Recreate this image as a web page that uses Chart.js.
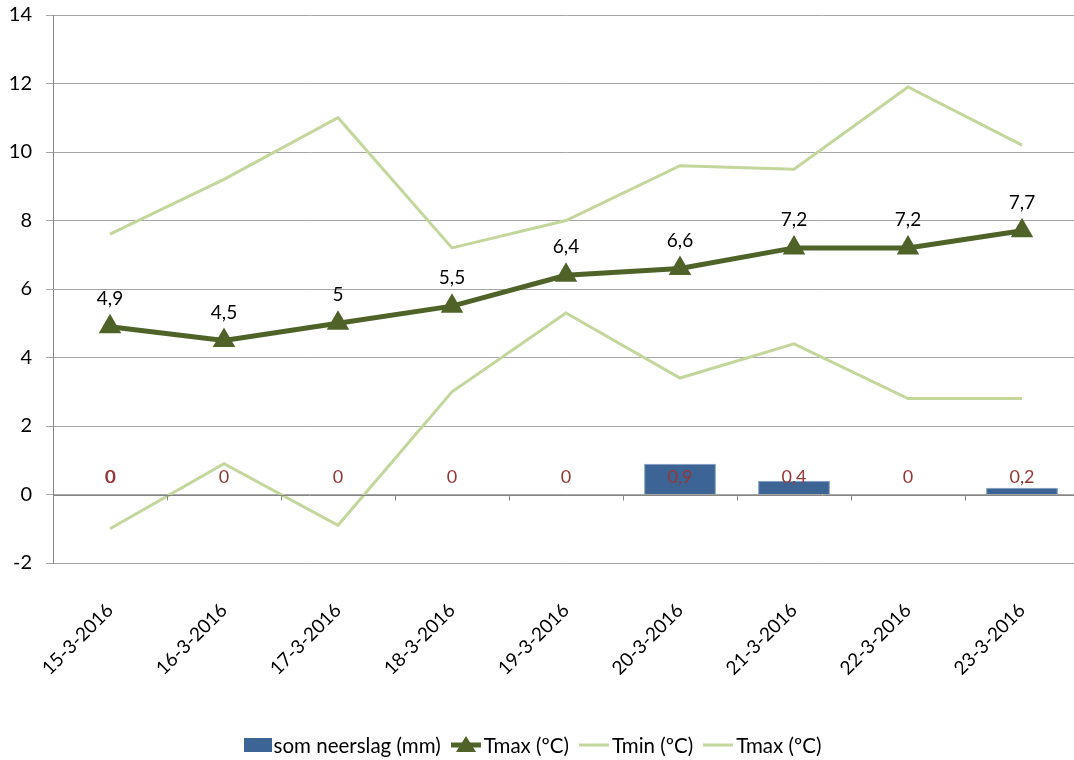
<!DOCTYPE html>
<html>
<head>
<meta charset="utf-8">
<script src="https://cdn.jsdelivr.net/npm/chart.js@4.4.1/dist/chart.umd.min.js"></script>
<style>
html,body{margin:0;padding:0;background:#fff;overflow:hidden;width:1074px;height:760px;}
#wrap{position:absolute;left:0;top:0;width:1092px;height:760px;}
#legend{position:absolute;left:0;top:732px;width:1074px;height:26px;display:flex;justify-content:center;align-items:center;font-family:Lato,"Open Sans",sans-serif;font-size:20.5px;color:#000;}
.it{display:flex;align-items:center;margin-right:9px;}
.sw{display:inline-block;margin-right:2px;}
</style>
</head>
<body>
<div id="wrap"><canvas id="c" width="1092" height="760"></canvas></div>
<div id="legend"></div>
<script>
const categories = ['15-3-2016','16-3-2016','17-3-2016','18-3-2016','19-3-2016','20-3-2016','21-3-2016','22-3-2016','23-3-2016'];
const neerslag = [0, 0, 0, 0, 0, 0.9, 0.4, 0, 0.2];
const tmax = [4.9, 4.5, 5, 5.5, 6.4, 6.6, 7.2, 7.2, 7.7];
const tmin = [-1, 0.9, -0.9, 3, 5.3, 3.4, 4.4, 2.8, 2.8];
const tmax2 = [7.6, 9.2, 11, 7.2, 8, 9.6, 9.5, 11.9, 10.2];
const yTicks = [-2, 0, 2, 4, 6, 8, 10, 12, 14];
const seriesNames = ['som neerslag (mm)', 'Tmax (\u00BAC)', 'Tmin (\u00BAC)', 'Tmax (\u00BAC)'];

const FONT = 'Lato, "Open Sans", sans-serif';
const fmt = v => String(v).replace('.', ',');

const labelPlugin = {
  id: 'labels',
  afterDatasetsDraw(chart) {
    const ctx = chart.ctx;
    const ys = chart.scales.y;
    ctx.save();
    const y0 = Math.round(ys.getPixelForValue(0)) + 0.5;
    ctx.strokeStyle = '#868686';
    ctx.lineWidth = 1;
    ctx.beginPath();
    ctx.moveTo(chart.chartArea.left, y0);
    ctx.lineTo(chart.chartArea.right, y0);
    const n = categories.length;
    const w = (chart.chartArea.right - chart.chartArea.left) / n;
    for (let i = 0; i <= n; i++) {
      const x = Math.round(chart.chartArea.left + i * w) + 0.5;
      ctx.moveTo(x, y0);
      ctx.lineTo(x, y0 + 5);
    }
    ctx.stroke();
    ctx.restore();
  },
  afterDraw(chart) {
    const ctx = chart.ctx;
    const ys = chart.scales.y;
    ctx.save();
    ctx.textAlign = 'center';
    ctx.textBaseline = 'middle';
    ctx.font = '18px ' + FONT;
    ctx.fillStyle = '#953735';
    const barMeta = chart.getDatasetMeta(0);
    const yl = ys.getPixelForValue(0.5);
    barMeta.data.forEach((el, i) => {
      ctx.fillText(fmt(neerslag[i]), el.x, yl);
      if (i === 0) ctx.fillText(fmt(neerslag[i]), el.x + 0.8, yl);
    });
    ctx.font = '19px ' + FONT;
    ctx.fillStyle = '#000';
    const m = chart.getDatasetMeta(1);
    m.data.forEach((el, i) => {
      ctx.fillText(fmt(tmax[i]), el.x, el.y - 28);
    });
    ctx.restore();
  }
};

new Chart(document.getElementById('c'), {
  data: {
    labels: categories,
    datasets: [
      { type: 'bar', label: seriesNames[0], data: neerslag, backgroundColor: '#3C6595', borderColor: '#7E9CC2', borderWidth: 1, barPercentage: 0.63, categoryPercentage: 1, order: 4 },
      { type: 'line', label: seriesNames[1], data: tmax, borderColor: '#4F6228', backgroundColor: '#4F6228', borderWidth: 5, pointStyle: 'triangle', pointRadius: 11, pointBorderWidth: 2, pointBackgroundColor: '#4F6228', pointBorderColor: '#4F6228', tension: 0, order: 1 },
      { type: 'line', label: seriesNames[2], data: tmin, borderColor: '#C3D69B', borderWidth: 3, pointRadius: 0, tension: 0, order: 2 },
      { type: 'line', label: seriesNames[3], data: tmax2, borderColor: '#C3D69B', borderWidth: 3, pointRadius: 0, tension: 0, order: 3 }
    ]
  },
  options: {
    responsive: false,
    animation: false,
    layout: { padding: { top: 15, right: 2, left: 0, bottom: 0 } },
    plugins: { legend: { display: false }, tooltip: { enabled: false } },
    scales: {
      x: {
        offset: true,
        grid: { display: false },
        border: { display: false },
        ticks: { maxRotation: 45, minRotation: 45, padding: 28, color: '#000', font: { family: FONT, size: 19 } },
        afterFit(s) { s.height = 197; s.paddingTop = 0; s.paddingBottom = 0; }
      },
      y: {
        min: -2, max: 14,
        afterBuildTicks(s) { s.ticks = yTicks.map(v => ({ value: v })); },
        grid: { color: '#A6A6A6', tickLength: 7, lineWidth: 1 },
        border: { display: true, color: '#868686' },
        ticks: { padding: 14, color: '#000', font: { family: FONT, size: 20 } },
        afterFit(s) { s.width = 53; s.paddingTop = 0; s.paddingBottom = 0; }
      }
    }
  },
  plugins: [labelPlugin]
});

const lg = document.getElementById('legend');
const items = [
  { name: seriesNames[0], sw: '<span class="sw" style="width:28px;height:14px;background:#3C6595;"></span>' },
  { name: seriesNames[1], sw: '<svg class="sw" width="32" height="20"><line x1="1" y1="10" x2="31" y2="10" stroke="#4F6228" stroke-width="5"/><polygon points="16,1 26,17 6,17" fill="#4F6228"/></svg>' },
  { name: seriesNames[2], sw: '<svg class="sw" width="32" height="20"><line x1="1" y1="10" x2="31" y2="10" stroke="#C3D69B" stroke-width="3"/></svg>' },
  { name: seriesNames[3], sw: '<svg class="sw" width="32" height="20"><line x1="1" y1="10" x2="31" y2="10" stroke="#C3D69B" stroke-width="3"/></svg>' }
];
lg.innerHTML = items.map(it => '<span class="it">' + it.sw + '<span>' + it.name + '</span></span>').join('');
</script>
</body>
</html>
